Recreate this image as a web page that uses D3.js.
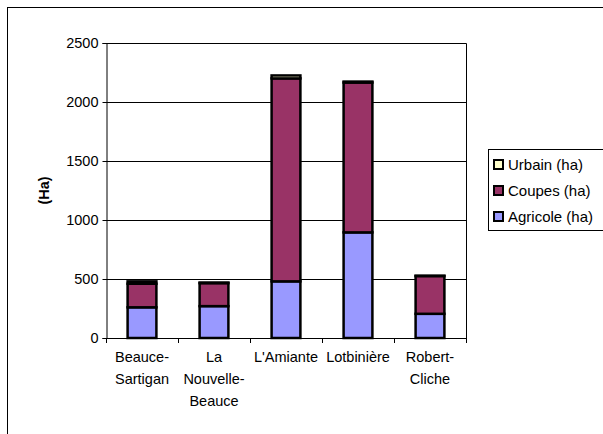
<!DOCTYPE html>
<html>
<head>
<meta charset="utf-8">
<script src="https://cdn.jsdelivr.net/npm/d3@7"></script>
<style>
  body { margin: 0; background: #fff; }
  text { font-family: "Liberation Sans", Arial, sans-serif; fill: #000; }
</style>
</head>
<body>
<div id="chart"></div>
<script>
// data
var regions = ["Beauce-Sartigan", "La Nouvelle-Beauce", "L'Amiante", "Lotbinière", "Robert-Cliche"];
var regionLines = [["Beauce-", "Sartigan"], ["La", "Nouvelle-", "Beauce"], ["L'Amiante"], ["Lotbinière"], ["Robert-", "Cliche"]];
var agricole = [260, 270, 480, 895, 205];
var coupes = [200, 195, 1720, 1270, 320];
var urbain = [20, 5, 25, 8, 3];
var seriesNames = ["Agricole (ha)", "Coupes (ha)", "Urbain (ha)"];
var seriesColors = ["#9999FF", "#993366", "#FFFFCC"];
var yTicks = [0, 500, 1000, 1500, 2000, 2500];

var W = 603, H = 434;
var margin = { top: 43, left: 106, right: 137, bottom: 96 };
var fontSize = "14.5px";

var svg = d3.select("#chart").append("svg")
    .attr("width", W)
    .attr("height", H);

// outer chart frame (runs off right and bottom)
svg.append("rect")
    .attr("x", 7.5).attr("y", 7.5)
    .attr("width", W + 10).attr("height", H + 10)
    .attr("fill", "none").attr("stroke", "#000").attr("stroke-width", 1);

var x = d3.scaleBand()
    .domain(regions)
    .range([margin.left, W - margin.right])
    .paddingInner(0.6).paddingOuter(0.3);

var y = d3.scaleLinear()
    .domain([0, 2500])
    .range([H - margin.bottom, margin.top]);

// gridlines
svg.append("g")
    .selectAll("line")
    .data(yTicks.slice(1, -1))
    .join("line")
    .attr("x1", margin.left).attr("x2", W - margin.right)
    .attr("y1", d => Math.round(y(d)) + 0.5).attr("y2", d => Math.round(y(d)) + 0.5)
    .attr("stroke", "#000").attr("stroke-width", 1);

// plot area border (top + right)
svg.append("path")
    .attr("d", `M${margin.left},${Math.round(y(2500)) + 0.5}H${W - margin.right + 0.5}V${y(0)}`)
    .attr("fill", "none").attr("stroke", "#000").attr("stroke-width", 1);

// stacked bars
var rows = regions.map((r, i) => ({ region: r, agricole: agricole[i], coupes: coupes[i], urbain: urbain[i] }));
var stack = d3.stack().keys(["agricole", "coupes", "urbain"]);
var layers = stack(rows);

svg.append("g")
    .selectAll("g")
    .data(layers)
    .join("g")
    .attr("fill", (d, i) => seriesColors[i])
    .selectAll("rect")
    .data(d => d)
    .join("rect")
    .attr("x", d => x(d.data.region))
    .attr("y", d => y(d[1]))
    .attr("width", x.bandwidth())
    .attr("height", d => y(d[0]) - y(d[1]))
    .attr("stroke", "#000")
    .attr("stroke-width", 2.5);

// y axis
var yAxis = d3.axisLeft(y).tickValues(yTicks).tickFormat(d3.format("d")).tickSize(4).tickPadding(4);
var gy = svg.append("g")
    .attr("transform", `translate(${margin.left + 0.5},0)`)
    .call(yAxis);
gy.select(".domain").attr("stroke", "#000");
gy.selectAll("text").style("font-size", fontSize).attr("fill", "#000");

// x axis: ticks at category boundaries
var x0 = margin.left;
var xAxisG = svg.append("g");
xAxisG.append("line")
    .attr("x1", x0).attr("x2", W - margin.right + 0.5)
    .attr("y1", y(0) + 0.5).attr("y2", y(0) + 0.5)
    .attr("stroke", "#000");
xAxisG.selectAll(".tk")
    .data(d3.range(regions.length + 1))
    .join("line")
    .attr("x1", i => Math.round(x0 + i * (W - margin.right - x0) / regions.length) + 0.5)
    .attr("x2", i => Math.round(x0 + i * (W - margin.right - x0) / regions.length) + 0.5)
    .attr("y1", y(0)).attr("y2", y(0) + 5)
    .attr("stroke", "#000");

svg.append("g")
    .selectAll("text")
    .data(regions)
    .join("text")
    .attr("text-anchor", "middle")
    .style("font-size", fontSize)
    .attr("transform", d => `translate(${x(d) + x.bandwidth() / 2},${y(0) + 24})`)
    .each(function(d, i) {
        d3.select(this).selectAll("tspan")
            .data(regionLines[i])
            .join("tspan")
            .attr("x", 0)
            .attr("dy", (t, j) => j === 0 ? 0 : 22)
            .text(t => t);
    });

// y axis title
svg.append("text")
    .attr("transform", `translate(49,${(y(0) + y(2500)) / 2}) rotate(-90)`)
    .attr("text-anchor", "middle")
    .style("font-size", fontSize)
    .style("font-weight", "bold")
    .text("(Ha)");

// legend
var legend = svg.append("g");
legend.append("rect")
    .attr("x", 488.5).attr("y", 149.5)
    .attr("width", 130).attr("height", 81)
    .attr("fill", "#fff").attr("stroke", "#000");

var legendOrder = [2, 1, 0];
legend.selectAll("g")
    .data(legendOrder)
    .join("g")
    .attr("transform", (d, i) => `translate(494,${164 + i * 26})`)
    .each(function(s) {
        var g = d3.select(this);
        g.append("rect")
            .attr("x", 0).attr("y", -4)
            .attr("width", 9).attr("height", 9)
            .attr("fill", seriesColors[s])
            .attr("stroke", "#000").attr("stroke-width", 2);
        g.append("text")
            .attr("x", 14).attr("y", 6)
            .style("font-size", "15px")
            .text(seriesNames[s]);
    });
</script>
</body>
</html>
